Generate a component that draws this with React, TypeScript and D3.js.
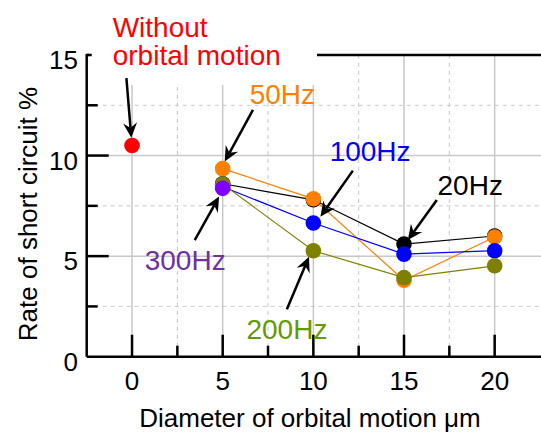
import React from "react";
import * as d3 from "d3";

// ---- data ----
const xPositions = [5, 10, 15, 20];
const series20Hz = [8.6, 7.8, 5.6, 6.0];
const series50Hz = [9.35, 7.85, 3.8, 5.95];
const series100Hz = [8.45, 6.65, 5.1, 5.27];
const series200Hz = [8.58, 5.27, 3.93, 4.52];
const series300Hz = [8.37];
const withoutX = [0];
const withoutY = [10.5];
const xTickValues = [0, 5, 10, 15, 20];
const xMinorValues = [2.5, 7.5, 12.5, 17.5];
const yTickValues = [0, 5, 10, 15];
const yMinorValues = [2.5, 7.5, 12.5];

const W = 541;
const H = 432;
const FONT = "'Liberation Sans', Arial, Helvetica, sans-serif";

const x = d3.scaleLinear().domain([-2.5, 22.5]).range([86.7, 540]);
const y = d3.scaleLinear().domain([0, 15]).range([356.7, 55]);

type Series = { name: string; values: number[]; color: string };
const seriesList: Series[] = [
  { name: "20Hz", values: series20Hz, color: "#000000" },
  { name: "50Hz", values: series50Hz, color: "#ff8000" },
  { name: "100Hz", values: series100Hz, color: "#0000ff" },
  { name: "200Hz", values: series200Hz, color: "#808000" },
  { name: "300Hz", values: series300Hz, color: "#8000ff" },
];

// annotation arrows in data units: [fromX, fromY, toX, toY]
const arrows: [number, number, number, number][] = [
  [-0.31, 13.85, -0.04, 10.88],
  [6.67, 12.27, 5.11, 9.7],
  [3.46, 5.8, 4.8, 7.96],
  [12.18, 9.25, 10.39, 6.96],
  [16.81, 7.79, 15.21, 5.8],
  [8.54, 2.36, 9.76, 4.97],
];

const labels: { text: string; x: number; y: number; color: string }[] = [
  { text: "50Hz", x: 6.49, y: 12.57, color: "#ff7f00" },
  { text: "100Hz", x: 10.9, y: 9.75, color: "#0000ff" },
  { text: "20Hz", x: 16.85, y: 8.04, color: "#000000" },
  { text: "300Hz", x: 0.7, y: 4.31, color: "#7030a0" },
  { text: "200Hz", x: 6.31, y: 0.87, color: "#669900" },
];

function Arrow({ a }: { a: [number, number, number, number] }) {
  const x1 = x(a[0]), y1 = y(a[1]), x2 = x(a[2]), y2 = y(a[3]);
  const ang = Math.atan2(y2 - y1, x2 - x1);
  const L = 15, Wd = 7, notch = 10;
  const ux = Math.cos(ang), uy = Math.sin(ang);
  const px = -uy, py = ux;
  const bx = x2 - ux * L, by = y2 - uy * L;
  const nx = x2 - ux * notch, ny = y2 - uy * notch;
  const pts = [
    [x2, y2],
    [bx + px * Wd, by + py * Wd],
    [nx, ny],
    [bx - px * Wd, by - py * Wd],
  ];
  return (
    <g>
      <line x1={x1} y1={y1} x2={nx} y2={ny} stroke="#000" strokeWidth={2.5} />
      <polygon points={pts.map((p) => p.join(",")).join(" ")} fill="#000" />
    </g>
  );
}

export default function App() {
  const line = d3
    .line<number>()
    .x((_, i) => x(xPositions[i]))
    .y((v) => y(v));
  const x0 = x(-2.5);
  const y0 = y(0);
  return (
    <svg
      width={W}
      height={H}
      style={{ position: "absolute", left: 0, top: 0, background: "#fff" }}
      fontFamily={FONT}
    >
      <rect x={0} y={0} width={W} height={H} fill="#fff" />
      {/* grid */}
      {xTickValues.map((v) => (
        <line key={"gx" + v} x1={x(v)} x2={x(v)} y1={y(15)} y2={y0} stroke="#c8c8c8" strokeWidth={1.5} />
      ))}
      {xMinorValues.map((v) => (
        <line key={"gxm" + v} x1={x(v)} x2={x(v)} y1={y(15)} y2={y0} stroke="#c8c8c8" strokeWidth={1} strokeDasharray="4,4" />
      ))}
      {yTickValues.filter((v) => v > 0 && v < 15).map((v) => (
        <line key={"gy" + v} x1={x0} x2={W} y1={y(v)} y2={y(v)} stroke="#c8c8c8" strokeWidth={1.5} />
      ))}
      {yMinorValues.map((v) => (
        <line key={"gym" + v} x1={x0} x2={W} y1={y(v)} y2={y(v)} stroke="#c8c8c8" strokeWidth={1} strokeDasharray="4,4" />
      ))}
      {/* top border */}
      <line x1={x0} x2={W} y1={y(15)} y2={y(15)} stroke="#000" strokeWidth={2.5} />
      {/* white box behind the top label */}
      <rect x={x0 + 2} y={0} width={317 - x0 - 2} height={85} fill="#fff" />
      {/* axes */}
      <line x1={x0} x2={x0} y1={y(15) - 1} y2={y0} stroke="#000" strokeWidth={2.5} />
      <line x1={x0} x2={W} y1={y0} y2={y0} stroke="#000" strokeWidth={2.5} />
      {yTickValues.filter((v) => v > 0).map((v) => (
        <line key={"ty" + v} x1={x0} x2={x0 + (v === 15 ? 5 : 22)} y1={y(v)} y2={y(v)} stroke="#000" strokeWidth={2.5} />
      ))}
      {yMinorValues.map((v) => (
        <line key={"tym" + v} x1={x0} x2={x0 + 11} y1={y(v)} y2={y(v)} stroke="#000" strokeWidth={2.5} />
      ))}
      {xTickValues.map((v) => (
        <line key={"tx" + v} x1={x(v)} x2={x(v)} y1={y0} y2={y0 - 22} stroke="#000" strokeWidth={2.5} />
      ))}
      {xMinorValues.map((v) => (
        <line key={"txm" + v} x1={x(v)} x2={x(v)} y1={y0} y2={y0 - 11} stroke="#000" strokeWidth={2.5} />
      ))}
      {/* tick labels */}
      {yTickValues.map((v) => (
        <text key={"ly" + v} x={78} y={y(v) + 14} textAnchor="end" fontSize={26} fill="#000">
          {v}
        </text>
      ))}
      {xTickValues.map((v) => (
        <text key={"lx" + v} x={x(v)} y={390} textAnchor="middle" fontSize={26} fill="#000">
          {v}
        </text>
      ))}
      {/* axis titles */}
      <text x={310} y={427} textAnchor="middle" fontSize={26} fill="#000">
        Diameter of orbital motion μm
      </text>
      <text transform="translate(37,214) rotate(-90)" textAnchor="middle" fontSize={26} fill="#000">
        Rate of short circuit %
      </text>
      {/* series lines */}
      {seriesList.filter((s) => s.values.length > 1).map((s) => (
        <path key={"l" + s.name} d={line(s.values) || ""} fill="none" stroke={s.color} strokeWidth={1.2} />
      ))}
      {/* points */}
      {withoutX.map((v, i) => (
        <circle key={"w" + i} cx={x(v)} cy={y(withoutY[i])} r={7.8} fill="#ff0000" />
      ))}
      {seriesList.map((s) =>
        s.values.map((v, i) => (
          <circle key={s.name + i} cx={x(xPositions[i])} cy={y(v)} r={7.8} fill={s.color} />
        ))
      )}
      {/* arrows */}
      {arrows.map((a, i) => (
        <Arrow key={"a" + i} a={a} />
      ))}
      {/* labels */}
      <text x={112.7} y={37.3} fontSize={28} fill="#ff0000">Without</text>
      <text x={112.7} y={65} fontSize={28} fill="#ff0000">orbital motion</text>
      {labels.map((l) => (
        <text key={l.text} x={x(l.x)} y={y(l.y)} fontSize={28} fill={l.color}>
          {l.text}
        </text>
      ))}
    </svg>
  );
}
